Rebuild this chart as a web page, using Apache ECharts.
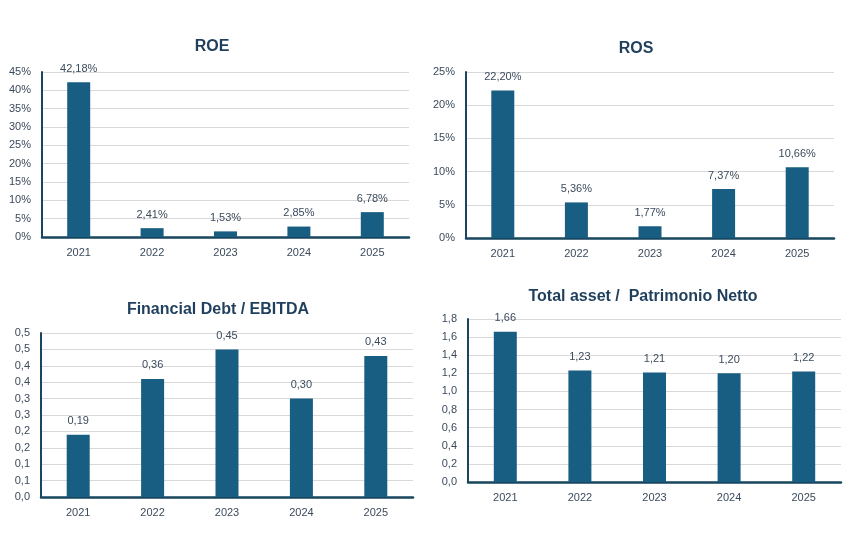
<!DOCTYPE html>
<html>
<head>
<meta charset="utf-8">
<script src="https://cdn.jsdelivr.net/npm/echarts@6/dist/echarts.min.js"></script>
<style>
  html, body { margin: 0; padding: 0; background: #fff; }
  #main { width: 857px; height: 541px; }
</style>
</head>
<body>
<div id="main"></div>
<script>
var years = ['2021', '2022', '2023', '2024', '2025'];
var roe = [42.18, 2.41, 1.53, 2.85, 6.78];
var ros = [22.20, 5.36, 1.77, 7.37, 10.66];
var debtEbitda = [0.19, 0.36, 0.45, 0.30, 0.43];
var assetPn = [1.66, 1.23, 1.21, 1.20, 1.22];

var barColor = '#175e82';
var axisColor = '#17465e';
var textColor = '#3b4a5c';
var titleColor = '#1f3f5c';
var font = 'Liberation Sans, Arial, sans-serif';

function comma(v, d) {
	return v.toFixed(d).replace('.', ',');
}
function oneDec(v) {
	return comma(Math.round(v * 10 + 1e-9) / 10, 1);
}

function title(text, x, y, size) {
	return {
		text: text, left: x, top: y, textAlign: 'center',
		textStyle: { color: titleColor, fontSize: size, fontWeight: 'bold', fontFamily: font }
	};
}
function xAxis(i) {
	return {
		type: 'category', gridIndex: i, data: years,
		axisLine: { lineStyle: { color: axisColor, width: 2.5 } },
		axisTick: { show: false },
		axisLabel: { color: textColor, fontSize: 11, fontFamily: font, margin: 10 }
	};
}
function yAxis(i, max, interval, fmt) {
	return {
		type: 'value', gridIndex: i, min: 0, max: max, interval: interval,
		axisLine: { show: true, lineStyle: { color: axisColor, width: 2 } },
		axisTick: { show: false },
		splitLine: { lineStyle: { color: '#d9d9d9', width: 1 } },
		axisLabel: { color: textColor, fontSize: 11, fontFamily: font, margin: 11, formatter: fmt }
	};
}
function bars(i, data, fmt) {
	return {
		type: 'bar', xAxisIndex: i, yAxisIndex: i, data: data,
		barWidth: 23, itemStyle: { color: barColor },
		label: {
			show: true, position: 'top', distance: 8,
			color: textColor, fontSize: 11, fontFamily: font,
			formatter: function (p) { return fmt(p.value); }
		}
	};
}

var chart = echarts.init(document.getElementById('main'));
chart.setOption({
	animation: false,
	title: [
		title('ROE', 207, 34, 16),
		title('ROS', 631, 36, 16),
		title('Financial Debt / EBITDA', 213, 297, 16),
		title('Total asset /  Patrimonio Netto', 638, 284, 16)
	],
	grid: [
		{ left: 42, top: 72, width: 367, height: 165 },
		{ left: 466, top: 72, width: 368, height: 166 },
		{ left: 41, top: 333, width: 372, height: 164 },
		{ left: 468, top: 319, width: 373, height: 163 }
	],
	xAxis: [xAxis(0), xAxis(1), xAxis(2), xAxis(3)],
	yAxis: [
		yAxis(0, 45, 5, '{value}%'),
		yAxis(1, 25, 5, '{value}%'),
		yAxis(2, 0.5, 0.05, oneDec),
		yAxis(3, 1.8, 0.2, oneDec)
	],
	series: [
		bars(0, roe, function (v) { return comma(v, 2) + '%'; }),
		bars(1, ros, function (v) { return comma(v, 2) + '%'; }),
		bars(2, debtEbitda, function (v) { return comma(v, 2); }),
		bars(3, assetPn, function (v) { return comma(v, 2); })
	]
});
</script>
</body>
</html>
